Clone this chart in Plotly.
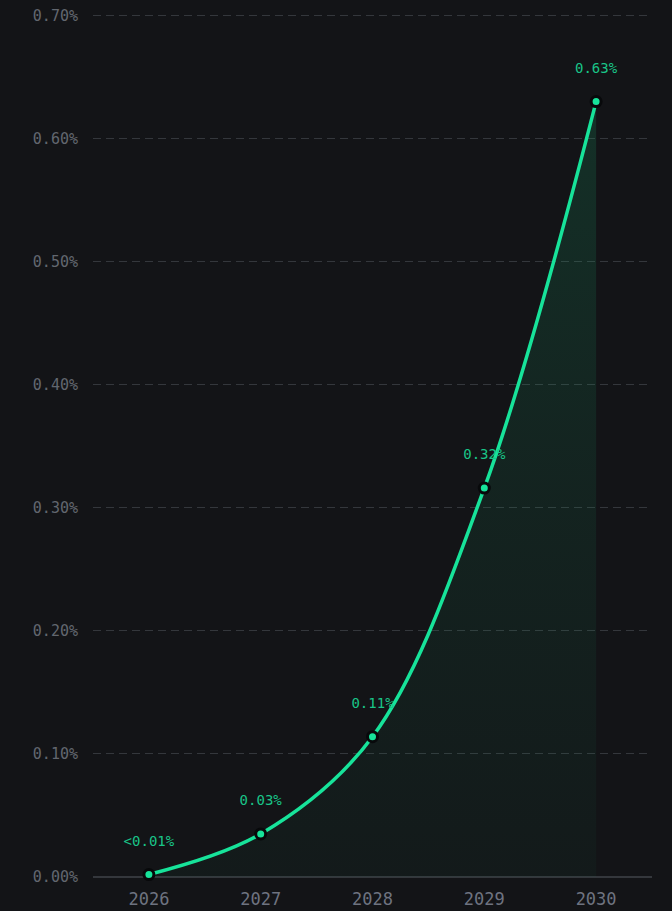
import plotly.graph_objects as go

years = ["2026", "2027", "2028", "2029", "2030"]
values = [0.002, 0.035, 0.114, 0.316, 0.630]
labels = ["<0.01%", "0.03%", "0.11%", "0.32%", "0.63%"]
y_ticks = [0.0, 0.1, 0.2, 0.3, 0.4, 0.5, 0.6, 0.7]
y_tick_labels = ["0.00%", "0.10%", "0.20%", "0.30%", "0.40%", "0.50%", "0.60%", "0.70%"]

line_color = "#17e39a"
bg = "#131417"
mono = "DejaVu Sans Mono"

fig = go.Figure()
fig.add_trace(go.Scatter(
    x=years, y=values,
    mode="lines+markers+text",
    text=[t.replace("<", "&lt;") + "<br> " for t in labels],
    textposition="top center",
    textfont=dict(family=mono, size=14, color="#19c488"),
    line=dict(color=line_color, width=3.5, shape="spline", smoothing=1),
    marker=dict(size=10, color=line_color, line=dict(color="#08090b", width=3)),
    fill="tozeroy",
    fillgradient=dict(type="vertical",
                      colorscale=[[0, "rgba(20,120,80,0.06)"], [1, "rgba(25,170,110,0.19)"]]),
    hoverinfo="skip",
    cliponaxis=False,
))

fig.update_layout(
    width=672, height=911,
    paper_bgcolor=bg, plot_bgcolor=bg,
    margin=dict(l=93, r=20, t=13, b=34),
    showlegend=False,
    xaxis=dict(type="category", range=[-0.5, 4.5], showgrid=False, zeroline=False,
               showline=False, ticks="", ticklabelstandoff=10, automargin=False,
               tickfont=dict(family=mono, size=17, color="#6e7380")),
    yaxis=dict(range=[0, 0.702], tickvals=y_ticks, ticktext=y_tick_labels,
               showgrid=True, gridcolor="#34373c", griddash="8px,5px", gridwidth=1,
               zeroline=True, zerolinecolor="#34373c", zerolinewidth=1.5,
               showline=False, ticks="", ticklabelstandoff=14, automargin=False,
               tickfont=dict(family=mono, size=15, color="#62676f")),
)

fig.write_html("out.html", config={"displayModeBar": False},
               post_script="document.body.style.margin='0';document.body.style.background='#131417';")
